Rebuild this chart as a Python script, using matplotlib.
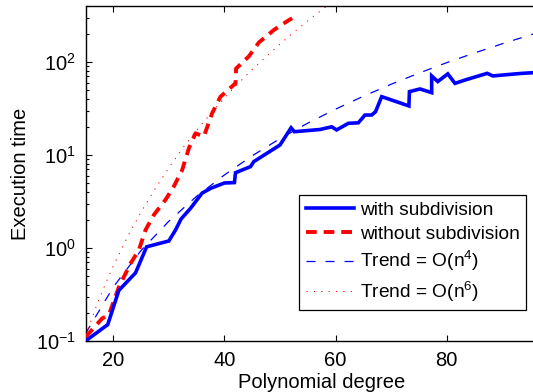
import matplotlib
matplotlib.use("Agg")
import matplotlib.pyplot as plt
from matplotlib.ticker import LogLocator, NullFormatter

plt.rcParams['font.family'] = ['Liberation Sans', 'DejaVu Sans']
plt.rcParams['mathtext.fontset'] = 'custom'
plt.rcParams['mathtext.rm'] = 'Liberation Sans'
plt.rcParams['mathtext.it'] = 'Liberation Sans:italic'
plt.rcParams['mathtext.bf'] = 'Liberation Sans:bold'
plt.rcParams['lines.scale_dashes'] = False

# with subdivision
deg_with = [15, 19, 21, 24, 26, 30, 31.2, 32.2, 33.9, 36, 37.6, 40, 41.8, 42, 44.7,
            45.3, 50, 52, 52.6, 57.2, 59.3, 60.2, 62.3, 64.1, 65.3, 66.5, 67.2,
            68.3, 73.2, 73.3, 75.2, 77.3, 77.3, 78.4, 80.2, 81.5, 83.3, 87.3,
            88.3, 92.4, 93.6, 96, 100]
time_with = [0.10, 0.15, 0.35, 0.54, 1.03, 1.19, 1.56, 2.05, 2.67, 3.9, 4.4, 5.0,
             5.05, 6.45, 7.5, 8.5, 12.8, 19.6, 17.8, 18.8, 20.1, 18.6, 21.9, 22.2,
             26.9, 26.9, 29.2, 42.4, 33.7, 48, 51.3, 46.8, 70.8, 61.6, 74.5, 58.9,
             64, 75.5, 70.8, 74.5, 75.5, 77, 78]

# without subdivision
deg_without = [15, 18, 19.2, 21, 23.1, 24.6, 25.8, 27.3, 29.4, 30.9, 32.4, 33.6,
               34.8, 36.3, 37.8, 39.3, 42.0, 42.1, 44.4, 46.2, 48.9, 51.6, 52.2]
time_without = [0.11, 0.175, 0.19, 0.38, 0.68, 0.95, 1.56, 2.27, 3.3, 4.6, 6.9,
                11.8, 17.1, 15.8, 28.2, 42.4, 59, 85, 115, 162, 221, 282, 295]

# trend O(n^4)
deg_trend4 = [15, 20, 25, 30, 35, 40, 45, 50, 55, 60, 65, 70, 75, 80, 85, 90, 95, 100]
time_trend4 = [0.12, 0.38, 0.94, 1.94, 3.6, 6.1, 9.8, 15.0, 22.0, 31.1, 42.8, 57.6,
               75.9, 98.3, 125, 157, 195, 240]

# trend O(n^6)
deg_trend6 = [15, 17.5, 20, 22.5, 25, 27.5, 30, 32.5, 35, 37.5, 40, 42.5, 45,
              47.5, 50, 52.5, 55, 57.5, 60]
time_trend6 = [0.114, 0.29, 0.64, 1.30, 2.44, 4.30, 7.29, 11.9, 18.4, 27.8, 41.0,
               59.0, 83.0, 114, 156, 209, 277, 362, 467]

x_ticks = [20, 40, 60, 80]

labels = ['with subdivision', 'without subdivision',
          r'Trend = O(n$^4$)', r'Trend = O(n$^6$)']

fig = plt.figure(figsize=(5.33, 3.92), dpi=100)
ax = fig.add_axes([85.5 / 533, 51 / 392, 472.3 / 533, 335 / 392])

ax.plot(deg_with, time_with, color='#0000ff', lw=2.6, solid_joinstyle='miter',
        label=labels[0], zorder=4)
ax.plot(deg_without, time_without, color='#ff0000', lw=2.8, dashes=(7.7, 5.0),
        label=labels[1], zorder=3)
ax.plot(deg_trend4, time_trend4, color='#0000ff', lw=0.9, dashes=(6.5, 7.2),
        label=labels[2], zorder=2)
ax.plot(deg_trend6, time_trend6, color='#ff0000', lw=0.7, dashes=(0.9, 4.4),
        label=labels[3], zorder=2)

ax.set_yscale('log')
ax.set_xlim(15, 100)
ax.set_ylim(0.1, 400)
ax.set_xticks(x_ticks)
ax.yaxis.set_major_locator(LogLocator(base=10, numticks=10))
ax.yaxis.set_minor_locator(LogLocator(base=10, subs=range(2, 10), numticks=20))
ax.yaxis.set_minor_formatter(NullFormatter())

ax.tick_params(which='both', direction='in', top=True, right=True,
               labelsize=14.5, width=0.8, pad=7)
ax.tick_params(which='major', length=4)
ax.tick_params(which='minor', length=2)
for s in ax.spines.values():
    s.set_linewidth(1.0)

ax.set_xlabel('Polynomial degree', fontsize=14.5, labelpad=2)
ax.set_ylabel('Execution time', fontsize=14.5, labelpad=4)

leg = ax.legend(loc='upper left', bbox_to_anchor=(0.4527, 0.436),
                borderaxespad=0, fontsize=13.8, fancybox=False, framealpha=1,
                edgecolor='black', handlelength=2.5, handletextpad=0.3,
                labelspacing=0.33, borderpad=0.35)
leg.get_frame().set_linewidth(0.9)

fig.savefig('out.png', dpi=100)
